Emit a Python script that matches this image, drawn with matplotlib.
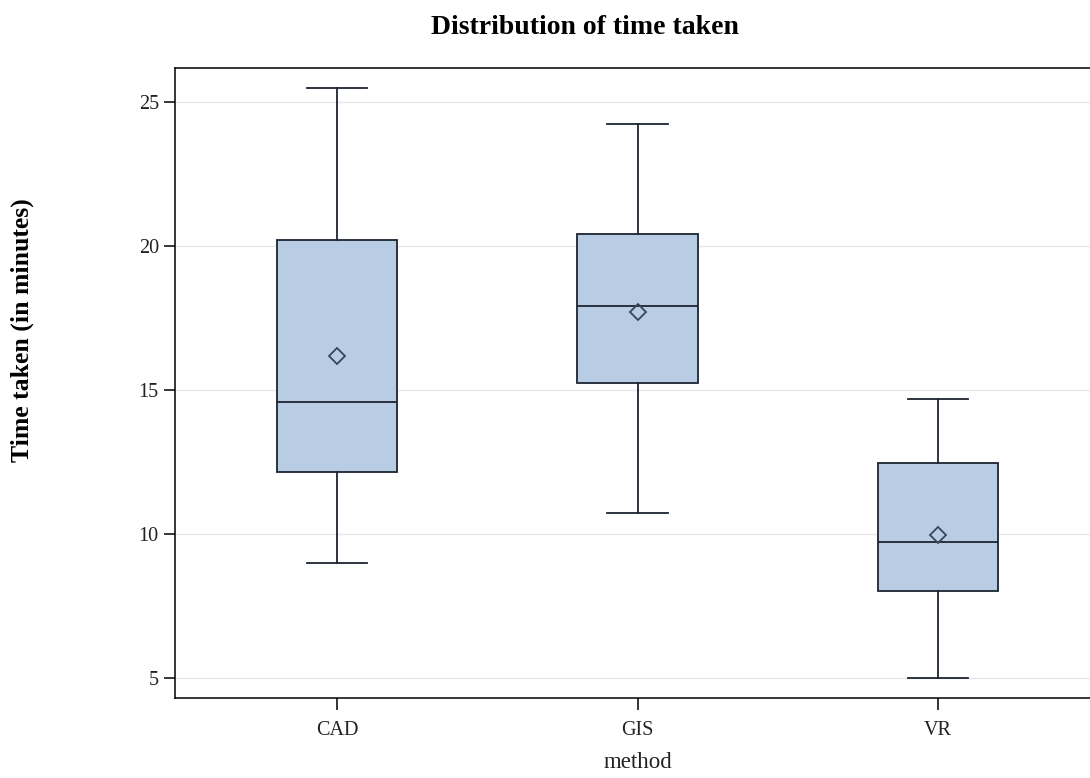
import matplotlib
matplotlib.use("Agg")
import matplotlib.pyplot as plt

# Data
methods = ["CAD", "GIS", "VR"]
whisker_low = [8.98, 10.74, 5.0]
q1 = [12.16, 15.25, 8.02]
median = [14.58, 17.9, 9.72]
q3 = [20.21, 20.42, 12.45]
whisker_high = [25.48, 24.24, 14.68]
means = [16.18, 17.7, 9.97]
yticks = [5, 10, 15, 20, 25]

fig = plt.figure(figsize=(10.9, 7.78), dpi=100)
ax = fig.add_axes([175 / 1090, 1 - 698 / 778, 925 / 1090, 630 / 778])

stats = []
for i, m in enumerate(methods):
    stats.append(dict(label=m, whislo=whisker_low[i], q1=q1[i], med=median[i],
                      q3=q3[i], whishi=whisker_high[i], mean=means[i], fliers=[]))

edge = "#1c2430"
ax.bxp(stats, positions=range(len(methods)), widths=0.4, capwidths=0.2,
       showmeans=True, patch_artist=True, showfliers=False,
       boxprops=dict(facecolor="#b8cce4", edgecolor=edge, linewidth=1.3),
       medianprops=dict(color=edge, linewidth=1.3),
       whiskerprops=dict(color=edge, linewidth=1.3),
       capprops=dict(color=edge, linewidth=1.3),
       meanprops=dict(marker="D", markerfacecolor="none", markeredgecolor="#3a4658",
                      markersize=8, markeredgewidth=1.3),
       zorder=3)

ax.set_xlim(-0.54, 2.54)
ax.set_ylim(4.306, 26.18)
ax.set_yticks(yticks)
ax.set_yticklabels([str(t) for t in yticks])
ax.set_xticks(range(len(methods)))
ax.set_xticklabels(methods)
ax.yaxis.grid(True, color="#e6e6e6", linewidth=1.0, zorder=0)
ax.set_axisbelow(True)

for s in ["left", "bottom", "top"]:
    ax.spines[s].set_linewidth(1.1)
    ax.spines[s].set_color("black")
ax.spines["right"].set_visible(False)

ax.tick_params(axis="y", length=7.7, width=1.1, pad=4, labelsize=14.5, labelcolor="#222222")
ax.tick_params(axis="x", length=8.5, width=1.1, pad=8, labelsize=14.5, labelcolor="#222222")
for lab in ax.get_xticklabels() + ax.get_yticklabels():
    lab.set_fontfamily("Liberation Serif")

ax.set_xlabel("method", family="Liberation Serif", fontsize=16.5, labelpad=9, color="#222222")
fig.text(585 / 1090, 1 - 28 / 778, "Distribution of time taken",
         family="Liberation Serif", fontweight="bold", fontsize=20,
         ha="center", va="center")
fig.text(22 / 1090, 1 - 330 / 778, "Time taken (in minutes)",
         family="Liberation Serif", fontweight="bold", fontsize=18.5,
         ha="center", va="center", rotation=90)

fig.savefig("out.png", dpi=100)
